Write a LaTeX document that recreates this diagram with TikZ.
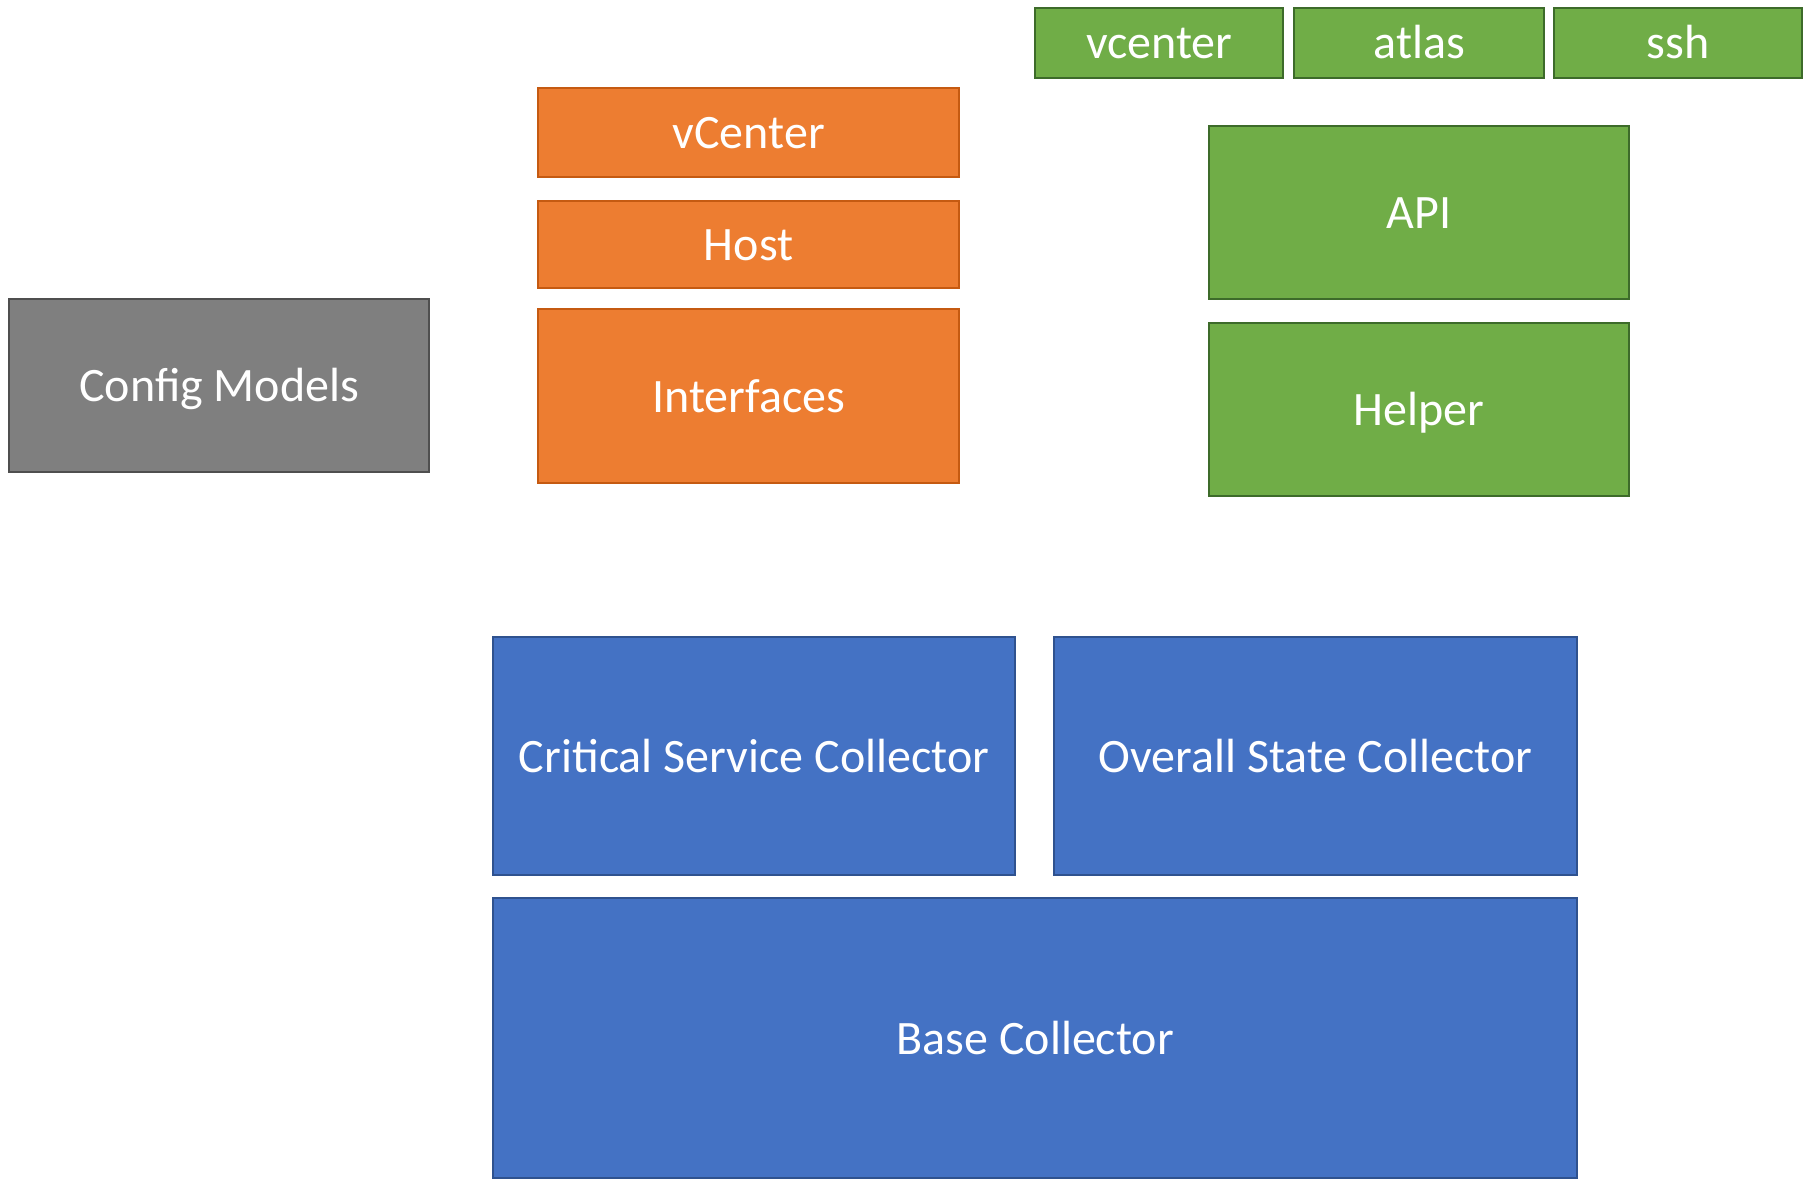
\documentclass[tikz,border=0pt]{standalone}
\usepackage{fontspec}
\setmainfont{Carlito}
\definecolor{gfill}{HTML}{70AD47}
\definecolor{gline}{HTML}{3D6B2A}
\definecolor{ofill}{HTML}{ED7D31}
\definecolor{oline}{HTML}{C55A11}
\definecolor{kfill}{HTML}{7F7F7F}
\definecolor{kline}{HTML}{4F4F4F}
\definecolor{bfill}{HTML}{4472C4}
\definecolor{bline}{HTML}{2F528F}
\tikzset{
  box/.style={draw, line width=1.2pt, inner sep=0pt, anchor=north west, text=white,
    font=\fontsize{24}{28}\selectfont, text height=15.8pt, text depth=0pt},
  gbox/.style={box, fill=gfill, draw=gline},
  obox/.style={box, fill=ofill, draw=oline},
  kbox/.style={box, fill=kfill, draw=kline},
  bbox/.style={box, fill=bfill, draw=bline}
}
\begin{document}
\begin{tikzpicture}[x=1pt,y=-1pt]
\useasboundingbox (0,0) rectangle (904.5,594);
\begin{scope}[shift={(-0.5,-0.5)}]
% green top
\node[gbox, minimum width=124pt, minimum height=35pt] (vc) at (517.5,4) {vcenter};
\node[gbox, minimum width=125pt, minimum height=35pt] (atlas) at (647,4) {atlas};
\node[gbox, minimum width=124pt, minimum height=35pt] (ssh) at (777,4) {ssh};
% orange
\node[obox, minimum width=210.5pt, minimum height=44.5pt] (vcenter) at (269,44) {vCenter};
\node[obox, minimum width=210.5pt, minimum height=43.5pt] (host) at (269,100.5) {Host};
\node[obox, minimum width=210.5pt, minimum height=87pt] (ifaces) at (269,154.5) {Interfaces};
% grey
\node[kbox, minimum width=210pt, minimum height=86.5pt] (config) at (4.5,149.5) {Config Models};
% green
\node[gbox, minimum width=210pt, minimum height=86.5pt] (api) at (604.5,63) {API};
\node[gbox, minimum width=210pt, minimum height=86.5pt] (helper) at (604.5,161.5) {Helper};
% blue
\node[bbox, minimum width=261pt, minimum height=119pt] (crit) at (246.5,318.5) {Critical Service Collector};
\node[bbox, minimum width=261.5pt, minimum height=119pt] (overall) at (527,318.5) {Overall State Collector};
\node[bbox, minimum width=542pt, minimum height=140pt] (base) at (246.5,449) {Base Collector};
\end{scope}
\end{tikzpicture}
\end{document}
